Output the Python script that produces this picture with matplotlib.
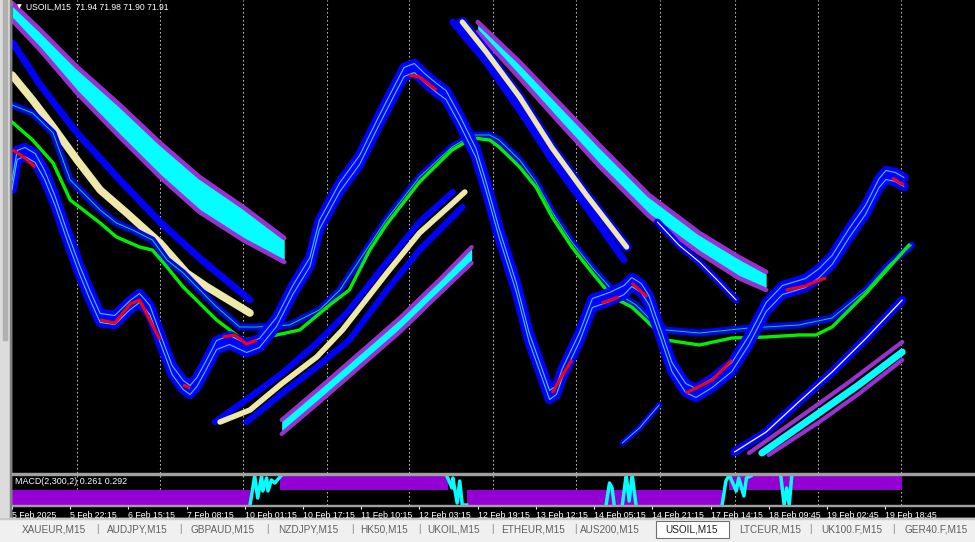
import matplotlib
matplotlib.use('Agg')
import matplotlib.pyplot as plt
from matplotlib.patches import Rectangle
import numpy as np

plt.rcParams['font.family'] = ['Liberation Sans', 'DejaVu Sans']
nan = np.nan

# ---------------- data (x = M15 bar index, y = price) ----------------
time_labels = ['5 Feb 2025', '5 Feb 22:15', '6 Feb 15:15', '7 Feb 08:15', '10 Feb 01:15',
               '10 Feb 17:15', '11 Feb 10:15', '12 Feb 03:15', '12 Feb 19:15', '13 Feb 12:15',
               '14 Feb 05:15', '14 Feb 21:15', '17 Feb 14:15', '18 Feb 09:45', '19 Feb 02:45',
               '19 Feb 18:45']
label_bars = [0, 68, 136, 204, 272, 340, 408, 476, 544, 612, 680, 748, 816, 884, 952, 1020]
grid_bars = [76, 173, 270, 368, 464, 562, 659, 757, 845, 942, 1038]

# main price envelope
wave_x = [0, 6, 15, 27, 38, 50, 64, 79, 91, 103, 120, 138, 149, 161, 173, 187, 200, 208, 216, 225, 239,
          254, 274, 289, 309, 328, 348, 359, 383, 406, 429, 447, 458, 470, 482, 496, 507, 523, 542,
          554, 569, 589, 604, 619, 628, 636, 643, 663, 678, 698, 715, 724, 735, 744, 759, 771, 787,
          799, 818, 841, 861, 881, 900, 927, 943, 958, 978, 997, 1013, 1021, 1032, 1042]
wave_y = [71.85, 72.15, 72.18, 72.12, 71.95, 71.70, 71.35, 71.00, 70.75, 70.52, 70.50, 70.65, 70.72,
          70.60, 70.32, 70.00, 69.85, 69.80, 69.88, 70.02, 70.25, 70.30, 70.22, 70.27, 70.48, 70.80,
          71.08, 71.45, 71.83, 72.10, 72.50, 72.80, 72.98, 73.02, 72.92, 72.82, 72.75, 72.50, 72.17,
          71.83, 71.37, 70.83, 70.33, 69.97, 69.75, 69.80, 69.97, 70.33, 70.67, 70.73, 70.80, 70.88,
          70.82, 70.70, 70.33, 70.03, 69.82, 69.77, 69.87, 70.03, 70.30, 70.63, 70.80, 70.87, 70.97,
          71.10, 71.37, 71.60, 71.87, 71.95, 71.93, 71.88]
# close line pieces visible inside the envelope
red_x = [1, 15, 27, nan, 103, 120, 138, 149, 161, 173, nan, 200, 208, nan, 246, 260, 274, 286, nan,
         464, 476, 488, 496, nan, 631, 643, 654, nan, 689, 709, nan, 724, 742, nan, 787, 811, 818, 841,
         nan, 904, 927, 943, 951, nan, 1028, 1042]
red_y = [72.20, 72.12, 72.03, nan, 70.50, 70.47, 70.66, 70.70, 70.50, 70.30, nan, 69.85, 69.82, nan,
         70.33, 70.35, 70.26, 70.30, nan, 72.95, 72.93, 72.85, 72.80, nan, 69.77, 69.95, 70.10, nan,
         70.67, 70.73, nan, 70.87, 70.73, nan, 69.77, 69.87, 69.90, 70.10, nan, 70.80, 70.84, 70.90,
         70.92, nan, 71.92, 71.85]

# blue MA with thin green core
maB_x = [0, 24, 48, 68, 103, 122, 141, 164, 181, 200, 239, 266, 286, 324, 359, 383, 406, 437, 476, 514,
         538, 558, 569, 593, 612, 631, 654, 678, 701, 729, 744, 764, 803, 861, 919, 958, 998, 1024, 1051]
maB_y = [72.65, 72.57, 72.37, 71.90, 71.60, 71.47, 71.40, 71.30, 71.10, 70.97, 70.63, 70.43, 70.43,
         70.45, 70.60, 70.80, 71.10, 71.50, 71.93, 72.23, 72.35, 72.35, 72.30, 72.10, 71.88, 71.58,
         71.28, 71.02, 70.80, 70.65, 70.52, 70.40, 70.37, 70.42, 70.45, 70.52, 70.80, 71.05, 71.25]
# green MA
maG_x = [0, 24, 48, 68, 103, 122, 149, 164, 181, 200, 239, 270, 298, 336, 374, 394, 418, 437, 476, 514,
         538, 558, 569, 593, 612, 631, 654, 678, 701, 724, 744, 764, 803, 841, 881, 919, 939, 958, 998, 1048]
maG_y = [72.48, 72.30, 72.07, 71.70, 71.47, 71.33, 71.23, 71.20, 71.03, 70.83, 70.50, 70.30, 70.33,
         70.40, 70.67, 70.80, 71.20, 71.45, 71.88, 72.20, 72.32, 72.30, 72.23, 72.03, 71.83, 71.53,
         71.23, 70.97, 70.73, 70.63, 70.47, 70.30, 70.25, 70.32, 70.33, 70.35, 70.35, 70.43, 70.77, 71.25]

# ribbon 1 (top left, cyan between violet edges)
rib1_x = [0, 33, 76, 126, 173, 219, 270, 318]
rib1_up = [73.67, 73.40, 73.03, 72.65, 72.27, 71.93, 71.63, 71.32]
rib1_lo = [73.50, 73.20, 72.77, 72.33, 71.93, 71.58, 71.30, 71.08]
# blue line under ribbon 1
lnE_x = [1, 33, 76, 126, 173, 219, 278]
lnE_y = [73.27, 72.85, 72.37, 71.90, 71.48, 71.12, 70.70]
# khaki line left
lnF_x = [0, 24, 48, 76, 103, 134, 173, 204, 228, 278]
lnF_y = [72.95, 72.70, 72.43, 72.10, 71.80, 71.57, 71.27, 70.97, 70.83, 70.57]

# rising bundle (khaki between two blues)
gK_x = [243, 278, 316, 356, 386, 438, 476, 515, 529]
gK_y = [69.48, 69.60, 69.87, 70.13, 70.40, 70.97, 71.37, 71.67, 71.78]
gB1_x = [237, 278, 316, 356, 391, 438, 476, 515]
gB1_y = [69.48, 69.73, 69.97, 70.27, 70.57, 71.08, 71.48, 71.78]
gB2_x = [274, 316, 356, 394, 438, 476, 526]
gB2_y = [69.48, 69.77, 70.03, 70.30, 70.80, 71.20, 71.63]

# rising violet / cyan ribbon
rib2_x = [315, 359, 394, 453, 499, 537]
rib2_up = [69.50, 69.82, 70.08, 70.52, 70.90, 71.23]
rib2_lo = [69.36, 69.68, 69.94, 70.38, 70.76, 71.07]

# falling bundle middle
dB_x = [515, 554, 593, 631, 671, 715]
dB_y = [73.48, 73.08, 72.60, 72.10, 71.63, 71.10]
dK_x = [526, 554, 593, 631, 671, 718]
dK_y = [73.48, 73.18, 72.73, 72.22, 71.75, 71.23]
rib3_x = [544, 593, 639, 686, 744, 803, 849, 881]
rib3_up = [73.48, 73.08, 72.67, 72.25, 71.75, 71.37, 71.13, 70.98]
rib3_lo = [73.38, 72.92, 72.48, 72.04, 71.54, 71.17, 70.92, 70.80]
dW_x = [754, 779, 803, 826, 846]
dW_y = [71.48, 71.25, 71.08, 70.88, 70.70]

# short rising segment
sJ_x = [713, 733, 756]
sJ_y = [69.27, 69.42, 69.65]

# rising bundle right
rK_x = [844, 881, 919, 958, 998, 1040]
rK_y = [69.18, 69.38, 69.68, 69.98, 70.32, 70.70]
rPu_x = [861, 919, 978, 1040]
rPu_y = [69.17, 69.52, 69.88, 70.28]
rC_x = [876, 931, 989, 1040]
rC_y = [69.17, 69.50, 69.85, 70.18]
rPl_x = [884, 943, 989, 1040]
rPl_y = [69.15, 69.48, 69.76, 70.10]

# MACD(2,300,2) sub window
hist_start = [0, 313, 531, 838]
hist_end = [278, 509, 829.5, 1040]
hist_val = [-0.30, 0.30, -0.30, 0.30]
sig_x = [278, 283.5, 287, 291.5, 293, 297.5, 299, 303, 307, 310, 315, nan,
         507.5, 514, 515, 520, 523, 526, 531, nan,
         694, 698, 701, 703.5, nan,
         713, 717.5, 721, 724.5, 729, nan,
         829.5, 834, 838, 846, 849, 855, 858, 863, nan,
         898, 902, 905, 908, 911]
sig_y = [-0.30, 0.28, -0.16, 0.28, -0.02, 0.24, -0.02, 0.20, 0.14, 0.20, 0.30, nan,
         0.30, 0.04, 0.24, -0.26, 0.18, -0.30, -0.30, nan,
         -0.30, 0.14, 0.04, -0.30, nan,
         -0.30, 0.30, -0.22, 0.30, -0.30, nan,
         -0.30, 0.18, 0.30, -0.02, 0.24, -0.12, 0.24, 0.28, nan,
         0.30, -0.30, 0.04, -0.30, 0.30]

tab_names = ['XAUEUR,M15', 'AUDJPY,M15', 'GBPAUD,M15', 'NZDJPY,M15', 'HK50,M15', 'UKOIL,M15',
             'ETHEUR,M15', 'AUS200,M15', 'USOIL,M15', 'LTCEUR,M15', 'UK100.F,M15', 'GER40.F,M15']
active_tab = 'USOIL,M15'

# ---------------- style ----------------
BLUE = '#0000FF'
CYAN = '#00FFFF'
LBLUE = '#40C8FF'
VIOLET = '#9B30D0'
KHAKI = '#EEE8AA'
GREEN = '#00F000'
RED = '#FF0000'
MACDC = '#9400D3'

W, H = 975, 542
fig = plt.figure(figsize=(W / 100, H / 100), dpi=100, facecolor='black')


def box(left, top, w, h):
    return [left / W, 1 - (top + h) / H, w / W, h / H]


ax = fig.add_axes(box(11, 0, 964, 473))
axm = fig.add_axes(box(11, 475, 964, 30))
for a in (ax, axm):
    a.set_facecolor('black')
    a.set_xlim(-1.2, 1125)
    for s in a.spines.values():
        s.set_visible(False)
    a.set_yticks([])
    for g in grid_bars:
        a.axvline(g, color='#d8d8d8', lw=0.8, ls=(0, (1.2, 2.4)), zorder=1)
ax.set_ylim(68.97, 73.70)
ax.set_xticks([])
axm.set_ylim(-0.30, 0.30)


def L(x, y, color, lw, z, a=ax):
    a.plot(x, y, color=color, lw=lw, zorder=z, solid_capstyle='round', solid_joinstyle='round')


# ribbons
for rx, ru, rl in ((rib1_x, rib1_up, rib1_lo), (rib3_x, rib3_up, rib3_lo)):
    ax.fill_between(rx, rl, ru, color=CYAN, lw=0, zorder=2)
    L(rx, ru, VIOLET, 3.3, 2.2)
    L(rx, rl, VIOLET, 3.3, 2.2)
ax.fill_between(rib2_x, rib2_lo, rib2_up, color=CYAN, lw=0, zorder=2)
L(rib2_x, rib2_up, VIOLET, 3.0, 2.2)
L(rib2_x, rib2_lo, VIOLET, 3.0, 2.2)
L(rPu_x, rPu_y, VIOLET, 3.0, 2.2)
L(rPl_x, rPl_y, VIOLET, 3.0, 2.2)
L(rC_x, rC_y, CYAN, 5.0, 2.3)

# blue / khaki lines
L(lnE_x, lnE_y, BLUE, 5.0, 3)
L(lnF_x, lnF_y, KHAKI, 5.5, 3)
L(gB1_x, gB1_y, BLUE, 4.5, 3)
L(gB2_x, gB2_y, BLUE, 4.5, 3)
L(gK_x, gK_y, KHAKI, 4.0, 3.1)
L(dB_x, dB_y, BLUE, 5.0, 3)
L(dK_x, dK_y, BLUE, 7.0, 3)
L(dK_x, dK_y, KHAKI, 3.8, 3.1)
L(dW_x, dW_y, BLUE, 5.0, 3)
L(dW_x, dW_y, 'white', 0.8, 3.1)
L(sJ_x, sJ_y, BLUE, 4.0, 3)
L(sJ_x, sJ_y, LBLUE, 0.7, 3.1)
L(rK_x, rK_y, BLUE, 6.0, 3)
L(rK_x, rK_y, 'white', 0.9, 3.1)

# moving averages
L(maB_x, maB_y, BLUE, 5.0, 4)
L(maB_x, maB_y, GREEN, 0.7, 4.1)
L(maG_x, maG_y, GREEN, 2.4, 4.2)

# main envelope
wy = np.array(wave_y)
off = 0.045
L(wave_x, wy + off, BLUE, 6.8, 5)
L(wave_x, wy - off, BLUE, 6.8, 5)
L(wave_x, wy + off, LBLUE, 0.8, 5.1)
L(wave_x, wy - off, LBLUE, 0.8, 5.1)
ax.plot(red_x, red_y, color=RED, lw=2.2, zorder=6, solid_capstyle='butt')

# MACD window
axm.bar(hist_start, hist_val, width=np.array(hist_end) - np.array(hist_start), align='edge',
        color=MACDC, lw=0, zorder=2)
axm.plot(sig_x, sig_y, color=CYAN, lw=2.5, zorder=3)
axm.set_xticks(label_bars)
axm.set_xticklabels(time_labels, ha='left')
axm.tick_params(axis='x', colors='white', length=3, width=0.8, pad=1.5, labelsize=6.3, direction='out')
for lab in axm.get_xticklabels():
    lab.set_color('white')

# separators and window chrome
fig.patches.append(Rectangle((11 / W, 1 - 475 / H), 964 / W, 2 / H, transform=fig.transFigure,
                             color='#a0a0a0', zorder=10))
fig.patches.append(Rectangle((11 / W, 1 - 506 / H), 964 / W, 1.2 / H, transform=fig.transFigure,
                             color='#a0a0a0', zorder=10))
fig.patches.append(Rectangle((0, 1 - 520 / H), 11 / W, 520 / H, transform=fig.transFigure,
                             color='#dcdcdc', zorder=10))
fig.patches.append(Rectangle((3 / W, 1 - 340 / H), 4 / W, 340 / H, transform=fig.transFigure,
                             color='#b0b0b0', zorder=10))
fig.patches.append(Rectangle((10 / W, 1 - 520 / H), 1 / W, 520 / H, transform=fig.transFigure,
                             color='#808080', zorder=10))
fig.patches.append(Rectangle((0, 0), 1, 24 / H, transform=fig.transFigure, color='#f0f0f0', zorder=10))
fig.patches.append(Rectangle((0, 23 / H), 1, 1 / H, transform=fig.transFigure, color='#c8c8c8', zorder=10))

# header texts
fig.text(17 / W, 1 - 6.5 / H, '\u25bc', color='white', fontsize=4.5, va='center', ha='left',
         family=['DejaVu Sans'], zorder=11)
fig.text(26 / W, 1 - 7 / H, 'USOIL,M15  71.94 71.98 71.90 71.91', color='white', fontsize=6.2,
         va='center', ha='left', zorder=11)
fig.text(15 / W, 1 - 482 / H, 'MACD(2,300,2) 0.261 0.292', color='white', fontsize=6.4,
         va='center', ha='left', zorder=11)

# tab bar
tab_centers = [54, 137, 223, 308, 384, 454, 533, 610, 692, 770, 852, 936]
seps = [97, 180, 267, 352, 419, 492, 575, 810, 893]
for name, cx in zip(tab_names, tab_centers):
    if name == active_tab:
        fig.patches.append(Rectangle((656 / W, 1 - 538 / H), 73 / W, 17 / H, transform=fig.transFigure,
                                     facecolor='white', edgecolor='#707070', lw=0.8, zorder=11))
        fig.text(cx / W, 1 - 529 / H, name, color='#202020', fontsize=7.2, ha='center', va='center', zorder=12)
    else:
        fig.text(cx / W, 1 - 529 / H, name, color='#606060', fontsize=7.2, ha='center', va='center', zorder=12)
for sx in seps:
    fig.text(sx / W, 1 - 529 / H, '|', color='#808080', fontsize=7.2, ha='center', va='center', zorder=12)

fig.savefig('out.png', dpi=100, facecolor='black')
